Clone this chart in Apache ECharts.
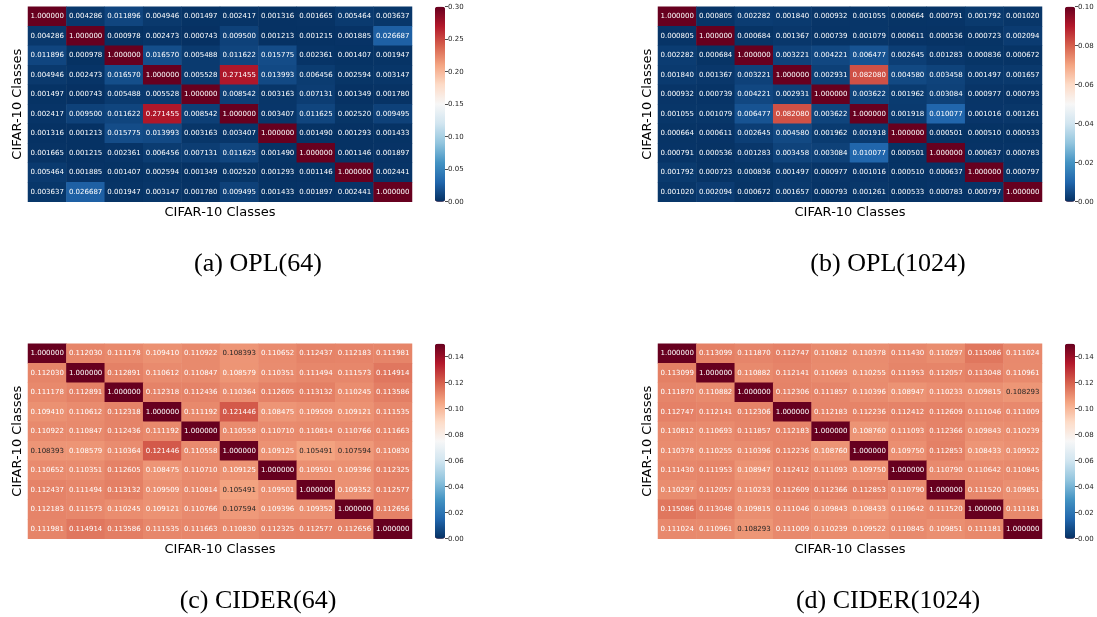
<!DOCTYPE html>
<html><head><meta charset="utf-8">
<script src="https://cdn.jsdelivr.net/npm/echarts@6/dist/echarts.min.js"></script>
<style>html,body{margin:0;padding:0;background:#fff}#c{width:1097px;height:617px}</style>
</head><body><div id="c"></div>
<script>
const classes = ['0','1','2','3','4','5','6','7','8','9'];

const opl64 = [
[1.000000,0.004286,0.011896,0.004946,0.001497,0.002417,0.001316,0.001665,0.005464,0.003637],
[0.004286,1.000000,0.000978,0.002473,0.000743,0.009500,0.001213,0.001215,0.001885,0.026687],
[0.011896,0.000978,1.000000,0.016570,0.005488,0.011622,0.015775,0.002361,0.001407,0.001947],
[0.004946,0.002473,0.016570,1.000000,0.005528,0.271455,0.013993,0.006456,0.002594,0.003147],
[0.001497,0.000743,0.005488,0.005528,1.000000,0.008542,0.003163,0.007131,0.001349,0.001780],
[0.002417,0.009500,0.011622,0.271455,0.008542,1.000000,0.003407,0.011625,0.002520,0.009495],
[0.001316,0.001213,0.015775,0.013993,0.003163,0.003407,1.000000,0.001490,0.001293,0.001433],
[0.001665,0.001215,0.002361,0.006456,0.007131,0.011625,0.001490,1.000000,0.001146,0.001897],
[0.005464,0.001885,0.001407,0.002594,0.001349,0.002520,0.001293,0.001146,1.000000,0.002441],
[0.003637,0.026687,0.001947,0.003147,0.001780,0.009495,0.001433,0.001897,0.002441,1.000000]];

const opl1024 = [
[1.000000,0.000805,0.002282,0.001840,0.000932,0.001055,0.000664,0.000791,0.001792,0.001020],
[0.000805,1.000000,0.000684,0.001367,0.000739,0.001079,0.000611,0.000536,0.000723,0.002094],
[0.002282,0.000684,1.000000,0.003221,0.004221,0.006477,0.002645,0.001283,0.000836,0.000672],
[0.001840,0.001367,0.003221,1.000000,0.002931,0.082080,0.004580,0.003458,0.001497,0.001657],
[0.000932,0.000739,0.004221,0.002931,1.000000,0.003622,0.001962,0.003084,0.000977,0.000793],
[0.001055,0.001079,0.006477,0.082080,0.003622,1.000000,0.001918,0.010077,0.001016,0.001261],
[0.000664,0.000611,0.002645,0.004580,0.001962,0.001918,1.000000,0.000501,0.000510,0.000533],
[0.000791,0.000536,0.001283,0.003458,0.003084,0.010077,0.000501,1.000000,0.000637,0.000783],
[0.001792,0.000723,0.000836,0.001497,0.000977,0.001016,0.000510,0.000637,1.000000,0.000797],
[0.001020,0.002094,0.000672,0.001657,0.000793,0.001261,0.000533,0.000783,0.000797,1.000000]];

const cider64 = [
[1.000000,0.112030,0.111178,0.109410,0.110922,0.108393,0.110652,0.112437,0.112183,0.111981],
[0.112030,1.000000,0.112891,0.110612,0.110847,0.108579,0.110351,0.111494,0.111573,0.114914],
[0.111178,0.112891,1.000000,0.112318,0.112436,0.110364,0.112605,0.113132,0.110245,0.113586],
[0.109410,0.110612,0.112318,1.000000,0.111192,0.121446,0.108475,0.109509,0.109121,0.111535],
[0.110922,0.110847,0.112436,0.111192,1.000000,0.110558,0.110710,0.110814,0.110766,0.111663],
[0.108393,0.108579,0.110364,0.121446,0.110558,1.000000,0.109125,0.105491,0.107594,0.110830],
[0.110652,0.110351,0.112605,0.108475,0.110710,0.109125,1.000000,0.109501,0.109396,0.112325],
[0.112437,0.111494,0.113132,0.109509,0.110814,0.105491,0.109501,1.000000,0.109352,0.112577],
[0.112183,0.111573,0.110245,0.109121,0.110766,0.107594,0.109396,0.109352,1.000000,0.112656],
[0.111981,0.114914,0.113586,0.111535,0.111663,0.110830,0.112325,0.112577,0.112656,1.000000]];

const cider1024 = [
[1.000000,0.113099,0.111870,0.112747,0.110812,0.110378,0.111430,0.110297,0.115086,0.111024],
[0.113099,1.000000,0.110882,0.112141,0.110693,0.110255,0.111953,0.112057,0.113048,0.110961],
[0.111870,0.110882,1.000000,0.112306,0.111857,0.110396,0.108947,0.110233,0.109815,0.108293],
[0.112747,0.112141,0.112306,1.000000,0.112183,0.112236,0.112412,0.112609,0.111046,0.111009],
[0.110812,0.110693,0.111857,0.112183,1.000000,0.108760,0.111093,0.112366,0.109843,0.110239],
[0.110378,0.110255,0.110396,0.112236,0.108760,1.000000,0.109750,0.112853,0.108433,0.109522],
[0.111430,0.111953,0.108947,0.112412,0.111093,0.109750,1.000000,0.110790,0.110642,0.110845],
[0.110297,0.112057,0.110233,0.112609,0.112366,0.112853,0.110790,1.000000,0.111520,0.109851],
[0.115086,0.113048,0.109815,0.111046,0.109843,0.108433,0.110642,0.111520,1.000000,0.111181],
[0.111024,0.110961,0.108293,0.111009,0.110239,0.109522,0.110845,0.109851,0.111181,1.000000]];

const matrices = [opl64, opl1024, cider64, cider1024];
const captions = ['(a) OPL(64)', '(b) OPL(1024)', '(c) CIDER(64)', '(d) CIDER(1024)'];
const colorMax = [0.30, 0.10, 0.15, 0.15];
const cbTicks = [
  [0.00,0.05,0.10,0.15,0.20,0.25,0.30],
  [0.00,0.02,0.04,0.06,0.08,0.10],
  [0.00,0.02,0.04,0.06,0.08,0.10,0.12,0.14],
  [0.00,0.02,0.04,0.06,0.08,0.10,0.12,0.14]];
const axisTitle = 'CIFAR-10 Classes';

// RdBu_r colormap stops
const RDBU_R = ['#053061','#2166ac','#4393c3','#92c5de','#d1e5f0','#f7f7f7','#fddbc7','#f4a582','#d6604d','#b2182b','#67001f'];

function hex2rgb(h){return [parseInt(h.slice(1,3),16),parseInt(h.slice(3,5),16),parseInt(h.slice(5,7),16)];}
function cmap(t){
  t = Math.max(0, Math.min(1, t));
  // 256-entry lookup table, as in the original colormap
  const idx = Math.min(255, Math.floor(t*256));
  t = idx/255;
  const p = t*(RDBU_R.length-1);
  const i = Math.min(Math.floor(p), RDBU_R.length-2);
  const f = p - i;
  const a = hex2rgb(RDBU_R[i]), b = hex2rgb(RDBU_R[i+1]);
  return a.map((c,k)=>c+(b[k]-c)*f);
}
function lum(rgb){
  const l = rgb.map(c=>{c/=255; return c<=0.03928? c/12.92 : Math.pow((c+0.055)/1.055,2.4);});
  return 0.2126*l[0]+0.7152*l[1]+0.0722*l[2];
}

const panels = [
  {left:28,  top:6.7, cb:435},
  {left:658, top:6.7, cb:1065},
  {left:28,  top:343.7, cb:435},
  {left:658, top:343.7, cb:1065}];
const W = 384, H = 195;

const grid=[], xAxis=[], yAxis=[], series=[], visualMap=[], graphic=[];
panels.forEach((p,i)=>{
  grid.push({left:p.left, top:p.top, width:W, height:H, containLabel:false});
  xAxis.push({type:'category', gridIndex:i, data:classes,
    axisLine:{show:false}, axisTick:{show:false}, axisLabel:{show:false}, splitLine:{show:false},
    name:axisTitle, nameLocation:'middle', nameGap:4,
    nameTextStyle:{fontFamily:'DejaVu Sans', fontSize:13, color:'#000'}});
  yAxis.push({type:'category', gridIndex:i, data:classes, inverse:true,
    axisLine:{show:false}, axisTick:{show:false}, axisLabel:{show:false}, splitLine:{show:false},
    name:axisTitle, nameLocation:'middle', nameGap:4,
    nameTextStyle:{fontFamily:'DejaVu Sans', fontSize:13, color:'#000'}});
  // colorbar tick axis
  yAxis.push({type:'value', gridIndex:i, position:'right', offset:(p.cb+10)-(p.left+W),
    min:0, max:colorMax[i],
    axisLine:{show:false}, splitLine:{show:false},
    axisTick:{show:true, length:3, inside:false, customValues:cbTicks[i], lineStyle:{color:'#222', width:0.8}},
    axisLabel:{show:true, margin:3, fontFamily:'DejaVu Sans', fontSize:7, color:'#222',
      customValues:cbTicks[i], formatter:v=>Number(v).toFixed(2)}});
  const m = matrices[i];
  const data=[];
  m.forEach((row,r)=>row.forEach((v,c)=>{
    const col = cmap(v/colorMax[i]);
    const txt = lum(col) > 0.408 ? '#262626' : '#ffffff';
    data.push({value:[c,r,v], label:{color:txt}});
  }));
  series.push({type:'heatmap', xAxisIndex:i, yAxisIndex:2*i, data,
    itemStyle:{borderWidth:0},
    label:{show:true, fontFamily:'DejaVu Sans', fontSize:7, formatter:q=>q.value[2].toFixed(6)},
    emphasis:{disabled:true}, progressive:0, animation:false});
  visualMap.push({type:'continuous', seriesIndex:i, dimension:2, min:0, max:colorMax[i],
    calculable:false, hoverLink:false, left:p.cb, top:p.top, itemWidth:10, itemHeight:H, padding:0,
    orient:'vertical', text:null, showLabel:false,
    inRange:{color:RDBU_R}, outOfRange:{color:['#67001f']}});
  graphic.push({type:'text', x:p.left+230, y:p.top+257.5,
    style:{text:captions[i], font:'26px "Liberation Serif"', fill:'#000', textAlign:'center', textVerticalAlign:'middle'}});
});

const chart = echarts.init(document.getElementById('c'), null, {renderer:'canvas'});
chart.setOption({animation:false, grid, xAxis, yAxis, series, visualMap, graphic});
</script>
</body></html>
